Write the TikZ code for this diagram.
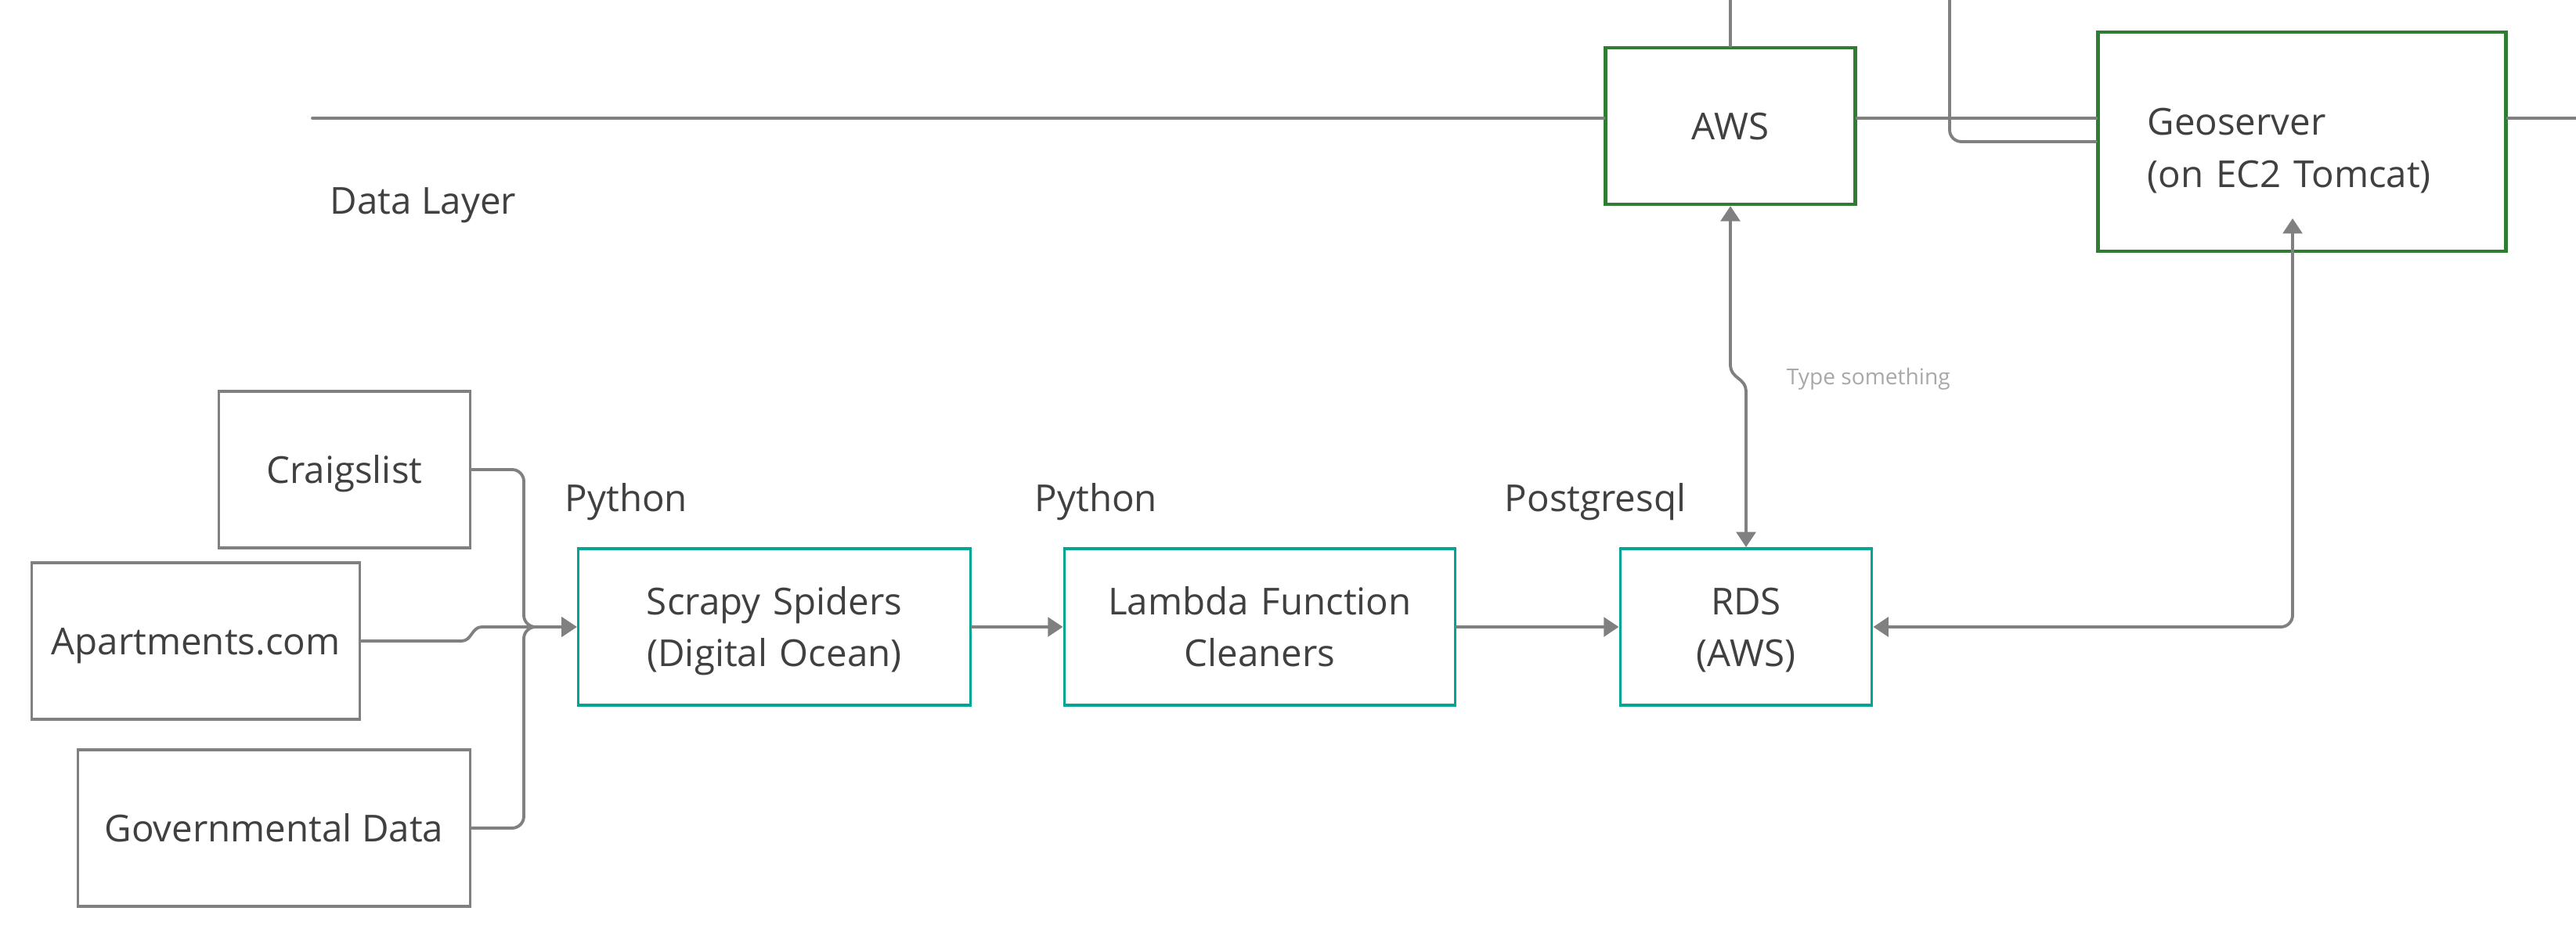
\documentclass[tikz,border=0pt]{standalone}
\usepackage{fontspec}
\setmainfont{Open Sans}
\usetikzlibrary{arrows.meta}
\definecolor{srcgray}{HTML}{808080}
\definecolor{linkgray}{HTML}{808080}
\definecolor{cloudgreen}{HTML}{2E7D32}
\definecolor{pipeteal}{HTML}{00A693}
\definecolor{inkgray}{HTML}{404040}
\definecolor{hintgray}{HTML}{A8A8A8}

\begin{document}
\begin{tikzpicture}[auto, line width=1.1pt, >={Triangle[length=5.5pt,width=7pt]}]
\tikzstyle{box}=[draw,minimum height=2cm,text=inkgray,align=center,
                 font=\fontsize{13.5}{19}\selectfont,line width=1.1pt,
                 text height=12pt,text depth=2pt]
\tikzstyle{src}=[box,draw=srcgray]
\tikzstyle{pipe}=[box,draw=pipeteal,inner xsep=0.3cm,text height=0.4cm,text depth=0.72cm]
\tikzstyle{cloud}=[box,draw=cloudgreen,line width=1.3pt]
\tikzstyle{lbl}=[anchor=base west,inner sep=0pt,text=inkgray,font=\fontsize{13.5}{19}\selectfont]
\tikzstyle{conn}=[draw=linkgray,line width=1.1pt,line cap=round]
  \useasboundingbox (0,0) rectangle (32.9,-12.01);
  % sources
  \foreach \place/\name/\boxw/\txt in {{(4.40,-6.00)/craig/3.21cm/Craigslist},
                                       {(2.50,-8.19)/apt/4.19cm/Apartments.com},
                                       {(3.50,-10.58)/gov/5.01cm/Governmental Data}}
    \node[src,minimum width=\boxw] (\name) at \place {\txt};
  % pipeline
  \foreach \place/\name/\textw/\txt in {{(9.89,-8.01)/scrapy/4.41cm/{Scrapy Spiders\\(Digital Ocean)}},
                                        {(16.09,-8.01)/lambda/4.39cm/{Lambda Function\\Cleaners}},
                                        {(22.30,-8.01)/rds/2.61cm/{RDS\\(AWS)}}}
    \node[pipe,text width=\textw] (\name) at \place {\txt};
  % cloud
  \node[cloud,minimum width=3.19cm] (aws) at (22.10,-1.61) {AWS};
  \node[cloud,minimum width=5.21cm,minimum height=2.80cm,align=left,
        text width=3.95cm,inner xsep=0.62cm,text height=0.5cm,text depth=0.66cm]
        (geo) at (29.40,-1.81) {Geoserver\\(on EC2 Tomcat)};
  % labels
  \foreach \place/\name/\txt in {{(4.20,-2.73)/layer/Data Layer},
                                 {(7.20,-6.53)/py1/Python},
                                 {(13.20,-6.53)/py2/Python},
                                 {(19.20,-6.53)/pg/Postgresql}}
    \node[lbl] (\name) at \place {\txt};
  \node[lbl,text=hintgray,font=\fontsize{8}{10}\selectfont] (hint) at (22.80,-4.91) {Type something};
  % layer line
  \coordinate (dl) at (3.99,-1.51);
  \coordinate (dr) at (32.90,-1.51);
  \coordinate (top) at (0,0);
  \coordinate (drop) at (24.90,0);
  \draw[conn] (dl) -- (dl -| aws.west);
  \draw[conn] (aws.east |- dl) -- (geo.west |- dl);
  \draw[conn] (geo.east |- dl) -- (dr);
  \draw[conn] (aws.north) -- (aws.north |- top);
  \draw[conn,rounded corners=0.15cm] (drop) |- (geo.west);
  % into the spiders
  \coordinate (merge) at (6.69,-8.01);
  \draw[conn,rounded corners=0.15cm,->] (craig.east) -| (merge) -- (scrapy.west);
  \draw[conn,rounded corners=0.15cm,->] (gov.east) -| (merge) -- (scrapy.west);
  \draw[conn,->] (apt.east) -- ++(1.28,0) .. controls +(0.13,0) and +(-0.13,0) .. ++(0.26,0.18)
      -- (scrapy.west);
  \foreach \source/\dest in {scrapy/lambda,lambda/rds}
      \draw[conn,->] (\source.east) -- (\dest.west);
  % database links
  \draw[conn,<->] (aws.south) -- ++(0,-2.02) .. controls +(0,-0.2) and +(0,0.2) .. ++(0.2,-0.36)
      -- (rds.north);
  \coordinate (geotip) at (29.28,-2.79);
  \draw[conn,<->,rounded corners=0.15cm] (geotip) |- (rds.east);
\end{tikzpicture}
\end{document}
